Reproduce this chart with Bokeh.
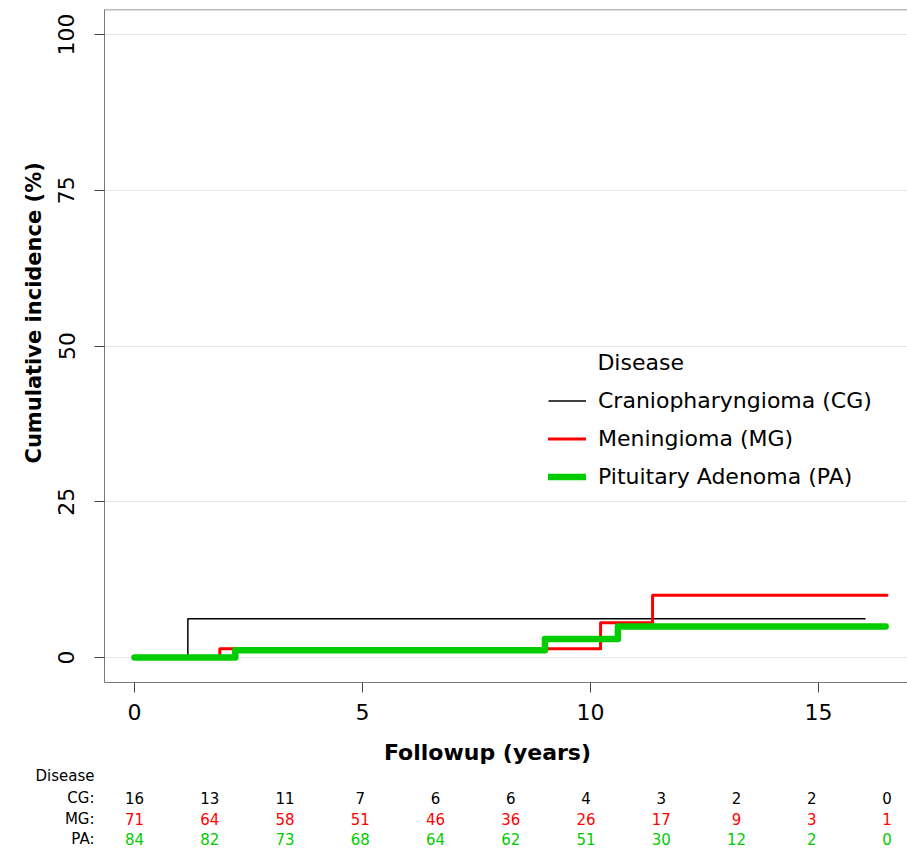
from bokeh.plotting import figure
from bokeh.models import Range1d, FixedTicker, Legend, LegendItem, Label, Span, Title
from bokeh.layouts import column
from bokeh.embed import file_html
from bokeh.resources import INLINE
from bokeh.core.properties import value

# ---- data ----
cg_time = [0, 1.17, 16.03]
cg_inc = [0, 6.25, 6.25]
mg_time = [0, 1.87, 10.22, 11.36, 16.5]
mg_inc = [0, 1.41, 5.6, 10.0, 10.0]
pa_time = [0, 2.21, 9.0, 10.6, 16.47]
pa_inc = [0, 1.19, 3.0, 5.0, 5.0]

series_names = ["Craniopharyngioma (CG)", "Meningioma (MG)", "Pituitary Adenoma (PA)"]
table_title = "Disease"
row_labels = ["CG:", "MG:", "PA:"]

risk_times = [0, 1.65, 3.3, 4.95, 6.6, 8.25, 9.9, 11.55, 13.2, 14.85, 16.5]
cg_risk = [16, 13, 11, 7, 6, 6, 4, 3, 2, 2, 0]
mg_risk = [71, 64, 58, 51, 46, 36, 26, 17, 9, 3, 1]
pa_risk = [84, 82, 73, 68, 64, 62, 51, 30, 12, 2, 0]

x_ticks = [0, 5, 10, 15]
y_ticks = [0, 25, 50, 75, 100]

# ---- style ----
FONT = "DejaVu Sans"
C_CG = "#000000"
C_MG = "#FF0000"
C_PA = "#00CC00"
FRAME = "#7A7A7A"

x_range = Range1d(-0.658, 16.95)

p = figure(width=907, height=731, title=None,
           x_range=x_range, y_range=Range1d(-4, 104),
           output_backend="svg", toolbar_location=None,
           min_border_left=104, min_border_right=0, min_border_top=9, min_border_bottom=49)

p.outline_line_color = None
p.xgrid.grid_line_color = None
p.ygrid.grid_line_color = "#E6E6E6"
p.ygrid.grid_line_width = 1

p.xaxis.ticker = FixedTicker(ticks=x_ticks)
p.yaxis.ticker = FixedTicker(ticks=y_ticks)
for ax in (p.xaxis, p.yaxis):
    ax.axis_line_color = FRAME
    ax.axis_line_width = 1
    ax.minor_tick_line_color = None
    ax.major_tick_in = 0
    ax.major_tick_out = 10
    ax.major_tick_line_color = "#444444"
    ax.major_label_text_font = FONT
    ax.major_label_text_font_size = "22px"
    ax.major_label_text_color = "#000000"
p.xaxis.major_label_standoff = 11
p.yaxis.major_label_standoff = 20
p.yaxis.major_label_orientation = "vertical"

p.add_layout(Title(text="Cumulative incidence (%)", align="left", offset=219,
                   text_font=FONT, text_font_size="21px", text_font_style="bold",
                   text_color="#000000", standoff=20), "left")

# top edge of the plotting box
p.add_layout(Span(location=104, dimension="width", line_color=FRAME, line_width=1.5))

r_cg = p.step(cg_time, cg_inc, mode="after", line_color=C_CG, line_width=1.5)
r_mg = p.step(mg_time, mg_inc, mode="after", line_color=C_MG, line_width=3,
              line_cap="round", line_join="round")
r_pa = p.step(pa_time, pa_inc, mode="after", line_color=C_PA, line_width=6.5,
              line_cap="round", line_join="round")

legend = Legend(items=[LegendItem(label=series_names[0], renderers=[r_cg]),
                       LegendItem(label=series_names[1], renderers=[r_mg]),
                       LegendItem(label=series_names[2], renderers=[r_pa])],
                location=(444, 193), padding=0, margin=0,
                border_line_color=None, background_fill_alpha=0,
                glyph_width=38, glyph_height=25, label_height=25, spacing=13,
                label_standoff=12, label_text_font=FONT, label_text_font_size="22px",
                label_text_color="#000000")
p.add_layout(legend)
p.add_layout(Label(x=10.15, y=47.3, text="Disease", text_font=FONT,
                   text_font_size="22px", text_baseline="middle", text_align="left",
                   text_color="#000000"))

# ---- x-axis title and number-at-risk table ----
T_H = 118
t = figure(width=907, height=T_H, title=None,
           x_range=x_range, y_range=Range1d(T_H, 0),
           output_backend="svg", toolbar_location=None, x_axis_location=None,
           min_border_left=104, min_border_right=0, min_border_top=0, min_border_bottom=0)
t.grid.visible = False
t.outline_line_color = None

row_y = [66, 87, 107]
head_y = 44
t.yaxis.ticker = FixedTicker(ticks=[head_y] + row_y)
t.yaxis.major_label_overrides = {head_y: table_title, row_y[0]: row_labels[0],
                                 row_y[1]: row_labels[1], row_y[2]: row_labels[2]}
t.yaxis.axis_line_color = None
t.yaxis.major_tick_line_color = None
t.yaxis.minor_tick_line_color = None
t.yaxis.major_tick_out = 0
t.yaxis.major_tick_in = 0
t.yaxis.major_label_standoff = 10
t.yaxis.major_label_text_font = FONT
t.yaxis.major_label_text_font_size = "15px"
t.yaxis.major_label_text_color = "#000000"

t.text(x=[7.74], y=[21], text=["Followup (years)"], text_font=value(FONT),
       text_font_size="22px", text_font_style="bold", text_align="center",
       text_baseline="middle", text_color="#000000")
for yy, counts, col in zip(row_y, [cg_risk, mg_risk, pa_risk], [C_CG, C_MG, C_PA]):
    t.text(x=risk_times, y=[yy] * len(risk_times), text=[str(c) for c in counts],
           text_font=value(FONT), text_font_size="15px", text_align="center",
           text_baseline="middle", text_color=col)

layout = column(p, t)
open("out.html", "w").write(file_html(layout, INLINE))
